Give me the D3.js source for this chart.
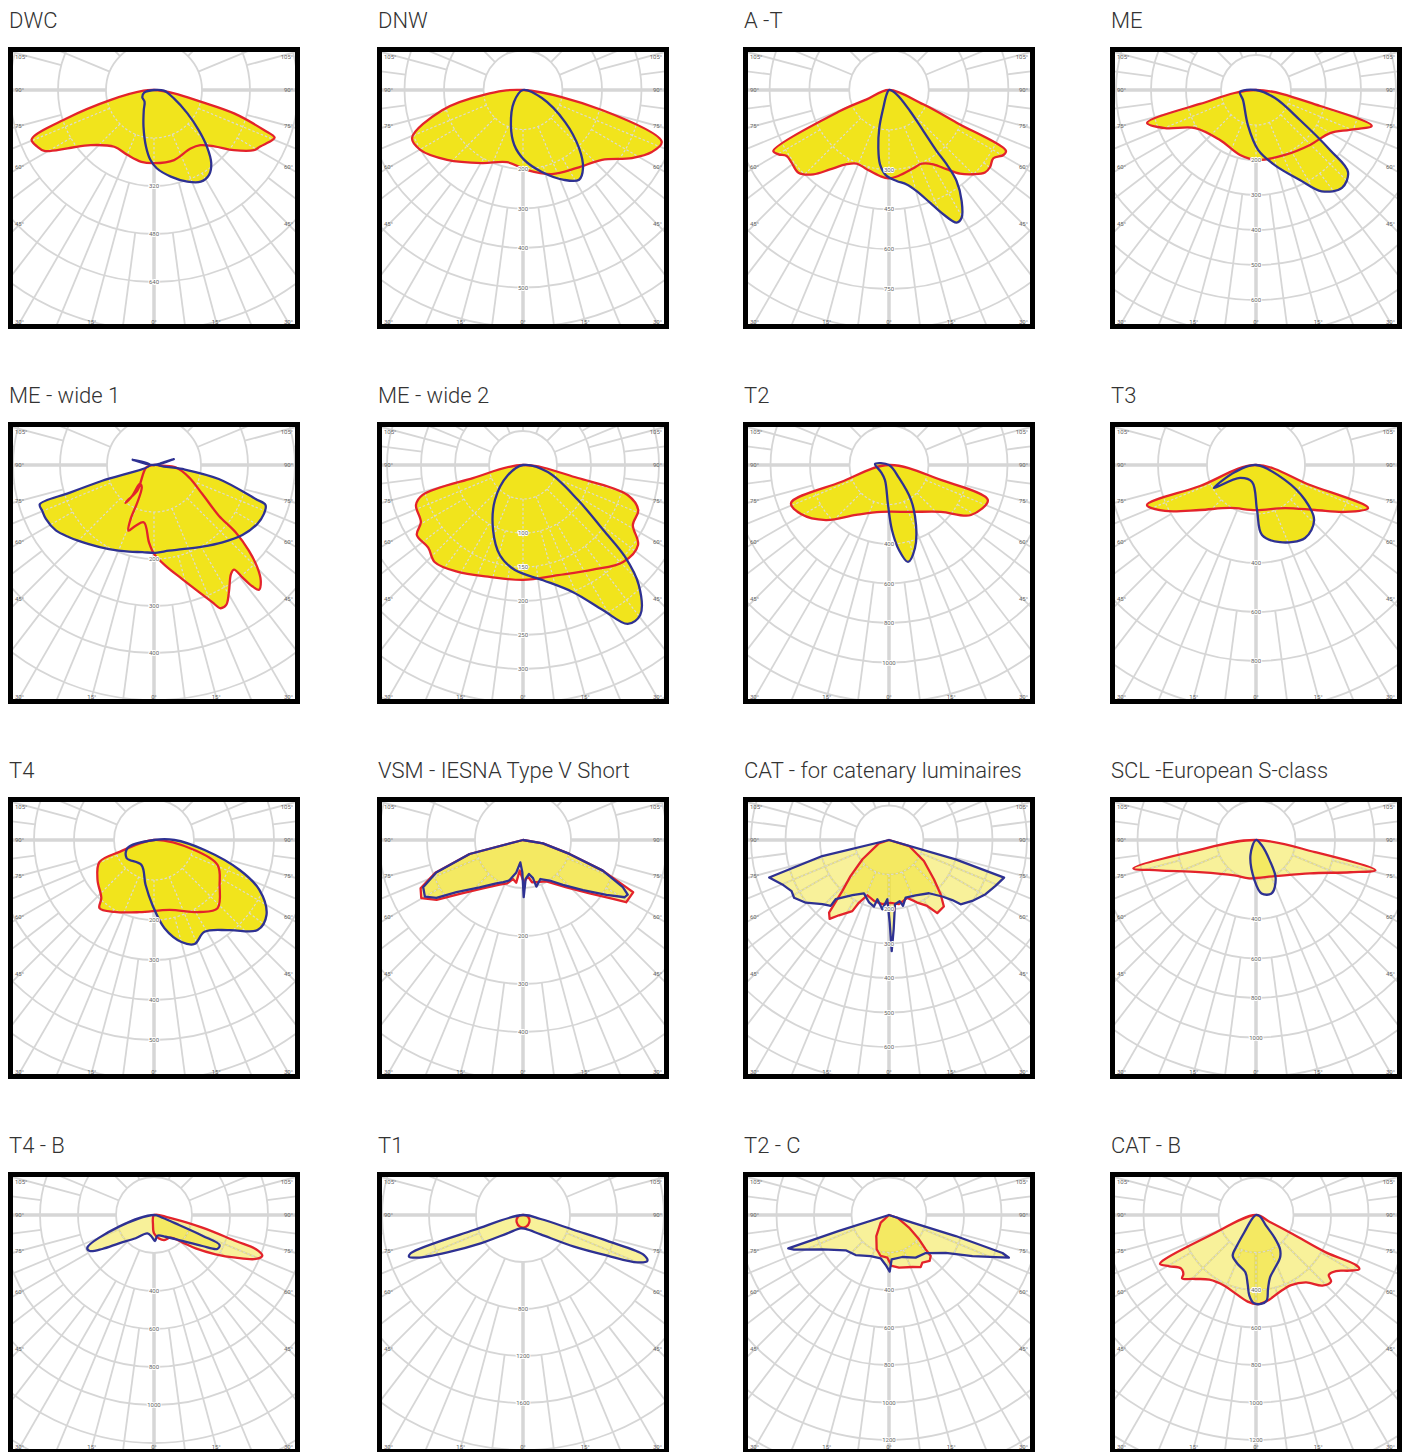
<!DOCTYPE html>
<html>
<head>
<meta charset="utf-8">
<script src="https://cdn.jsdelivr.net/npm/d3@7"></script>
<style>
  html, body { margin: 0; padding: 0; background: #fff; }
  svg { display: block; }
</style>
</head>
<body>
<div id="chart"></div>
<script>
// ---- data: titles, ring steps (cd per ring) and polar curves [gamma deg, cd] ----
var titles = ["DWC", "DNW", "A -T", "ME", "ME - wide 1", "ME - wide 2", "T2", "T3",
  "T4", "VSM - IESNA Type V Short", "CAT - for catenary luminaires", "SCL -European S-class",
  "T4 - B", "T1", "T2 - C", "CAT - B"];

var ringSteps = [160, 100, 150, 100, 100, 50, 200, 200, 100, 100, 100, 200, 200, 400, 200, 200];

var sideAngles = [105, 90, 75, 60, 45];
var bottomAngles = [-30, -15, 0, 15, 30];

var dwcRed = [[-90,0],[-86,35],[-77,150],[-72,305],[-68,440],[-64,432],[-61,418],[-56,348],[-49,280],[-35,231],[-22,234],[-10,243],[0,244],[16,243],[32,230],[40,240],[47,275],[53,333],[59,389],[62,401],[67,428],[68.5,432],[70,390],[73.7,278],[76,160],[80.5,68]];
var dwcBlue = [[-90,0],[-75,34],[-58,46],[-39,50],[-27,75],[-16,127],[-8,191],[-3,233],[2,261],[11,294],[20,325],[27,343],[33,337],[38,310],[43,259],[48,201],[55,136],[67,72],[86,33]];

var dnwRed = [[-90,0],[-83,100],[-76,211],[-66.6,306],[-59.8,301],[-47.4,261],[-29.3,212],[-12.5,187],[3,203],[19,225],[34.7,240],[48.5,267],[58,325],[64.3,362],[69.5,375],[75.8,206]];
var dnwBlue = [[-90,0],[-37,38],[-19,94],[-9,141],[1,177],[13,213],[24.5,250],[32,268],[37.6,249],[44,204],[52.7,134],[67,52]];

var atRed = [[-90,0],[-67.3,91],[-66.8,201],[-62.2,493],[-59.8,482],[-57.2,459],[-53.3,458],[-47.6,462],[-41.9,427],[-36.6,373],[-29.7,322],[-23.7,303],[-15.7,310],[-6,326],[-0.4,333],[6.2,326],[17.3,309],[23.9,304],[30.8,326],[36,369],[40.3,413],[45,449],[49.3,477],[52.7,479],[56.8,470],[60.4,496],[62.5,497],[64.2,283],[67.3,140]];
var atBlue = [[-90,0],[-28,19],[-17.8,70],[-14.4,147],[-10.5,221],[-6.9,282],[-1.6,324],[4.8,344],[10.6,362],[15.3,395],[20,452],[23.6,511],[27,561],[29.6,554],[33.2,500],[36.6,427],[37.8,354],[38,291],[40,201],[45,112],[60.5,33]];

var meRed = [[-90,0],[-76,165],[-73.2,325],[-67.3,282],[-58,205],[-35.8,176],[-13.8,191],[1.6,200],[24,203],[44.5,220],[59.8,245],[67,291],[72.8,346],[76,189]];
var meBlue = [[-90,0],[-83,46],[-52,47],[-13,103],[2,171],[14,221],[26,286],[33,345],[41.3,372],[48.3,352],[51,272],[55.7,152],[67,59]];

var meW1Red = [[-90,0],[-73,17],[-33,65],[-36.8,95],[-36.7,101],[-35.2,80],[-37,50],[-28.9,54],[-24,87],[-23.4,125],[-21.3,150],[-16.8,135],[-9.9,124],[-3.7,165],[0,189],[6.6,216],[13.9,250],[19.5,287],[23,317],[24.9,336],[27.3,335],[30.5,314],[35.2,284],[37.4,280],[38.2,304],[39,332],[40.1,347],[42.7,335],[45.3,309],[47.9,272],[50.5,225],[52,175],[59,120],[70.6,79],[83.9,46],[85,18]];
var meW1Blue = [[-90,0],[-103.8,47],[-92,8],[-73.1,115],[-71.8,190],[-71,257],[-67.8,257],[-63.5,257],[-56.3,251],[-49.6,237],[-39.5,218],[-28.2,203],[-16.1,192],[-7.6,187],[1.1,187],[9.9,185],[18.6,189],[30.6,202],[41.5,220],[51.6,240],[60.3,253],[66,256],[70.3,252],[71.5,228],[77.8,141],[82,61],[92,8],[106.7,44]];

var meW2Red = [[-90,0],[-75.4,76],[-73.4,154],[-69.5,168],[-60.8,172],[-56.6,187],[-48.9,185],[-42.2,193],[-31.3,184],[-17.4,172],[0,169],[17.6,170],[33.7,185],[45.9,205],[55.2,206],[61.4,184],[68.6,182],[74,160],[76.7,83]];
var meW2Blue = [[-90,0],[-56,27],[-38.7,66],[-24.8,105],[-14.3,137],[-4.4,155],[9.9,172],[21.5,201],[28.9,244],[33.4,280],[38,280],[44,245],[48,202],[51,152],[57.5,96],[74,38]];

var t2Red = [[-90,0],[-70.5,258],[-68.8,532],[-60.9,510],[-48.9,424],[-33.4,303],[-9.7,241],[25,262],[48,354],[58.6,486],[70.5,531],[73.9,273]];
var t2Blue = [[-90,0],[-94,71],[-48.8,54],[-15,79],[-1.4,202],[2.6,329],[6.7,433],[11.1,500],[17.4,440],[24.2,334],[32.2,209],[37.6,83]];

var t3Red = [[-90,0],[-69.4,244],[-69.9,474],[-63.2,416],[-51.2,293],[-31.2,205],[0,184],[34,212],[52.7,303],[62.2,411],[69,490],[69.7,235]];
var t3Blue = [[-90,0],[-71.6,90],[-61.3,196],[-51,84],[-13,71],[1.3,184],[4.9,287],[17.3,330],[33.9,359],[46.5,327],[54.5,246],[62.6,134]];

var t4Red = [[-90,0],[-71,91],[-68,147],[-54.7,173],[-42.2,196],[-38.7,218],[-28.7,205],[-11.4,184],[12.5,179],[32.3,213],[43,233],[55.5,199],[68.5,171],[76,104]];
var t4Blue = [[-90,0],[-73.2,69],[-56.8,82],[-26.6,70],[-10.7,114],[-1.3,163],[6.8,222],[15.1,264],[21.3,279],[28.8,262],[40,294],[49,343],[56.3,338],[64.6,292],[70.7,227],[78.8,129],[90,51]];

var vsmRed = [[-90,0],[-75.3,115],[-69.5,195],[-64.7,236],[-60.3,244],[-55.3,219],[-49.5,173],[-39.6,131],[-27.6,105],[-20,96],[-14.4,84],[-9,90],[-6.2,64],[0.9,88],[7.8,77],[12,90],[17.5,92],[29.4,99],[42.5,134],[51.3,178],[56.8,224],[58.9,251],[64.6,254],[65.4,237],[69,178],[73.3,101],[80.5,42]];
var vsmBlue = [[-90,0],[-75.3,115],[-69.5,193],[-64.7,230],[-60,236],[-56.2,217],[-51.9,176],[-42.5,134],[-31.6,106],[-25,97],[-21,92],[-18.4,88],[-11.6,69],[-6.8,47],[-1.2,67],[0.7,119],[3.9,81],[10,72],[14.7,82],[16,101],[24,89],[33.3,101],[41.6,125],[50.2,163],[56.7,208],[60.6,243],[62.5,246],[64.7,230],[69,178],[73.3,101],[80.5,42]];

var catRed = [[-90,0],[-71.6,31],[-54,95],[-46.8,153],[-42.5,200],[-40.5,245],[-39.5,273],[-37,286],[-33.6,262],[-27.3,232],[-25.6,201],[-21.4,172],[-13.8,182],[-5.9,187],[1.5,182],[8.8,188],[17.6,176],[24.3,199],[30.1,221],[33.4,254],[39.5,250],[43.6,217],[48.8,173],[59,118],[73.3,61]];
var catBlue = [[-90,0],[-76.5,199],[-72.6,364],[-67.4,335],[-62.3,319],[-58.7,322],[-53,302],[-46,268],[-41.5,255],[-42,231],[-33.5,192],[-25.1,171],[-17.7,190],[-12.7,198],[-11.1,175],[-5.5,202],[-1.6,172],[0.5,240],[1.4,322],[3,259],[5.3,187],[9.9,180],[12,195],[16.1,174],[25.7,178],[36.9,193],[43.3,225],[46.5,253],[48.1,279],[53.8,299],[60.7,321],[66.7,336],[71.9,351],[73.8,201]];

var sclRed = [[-90,0],[-79.9,319],[-77,637],[-72.7,516],[-60.5,331],[-31.6,210],[-9.7,197],[27.2,206],[58.3,321],[71.1,504],[75.8,624],[78.4,305]];
var sclBlue = [[-90,0],[-20,82],[-2.1,204],[5.9,272],[16.3,282],[27.2,218],[34,123],[47.7,38]];

var t4bRed = [[-90,0],[-5.7,53],[0,96],[12.1,126],[21.8,142],[36.3,148],[46,207],[51.3,281],[57.5,385],[62.4,485],[66.6,583],[69.4,609],[71.5,564],[72.3,451],[75.3,263],[80,80]];
var t4bBlue = [[-90,0],[-71.6,194],[-63.9,391],[-60.8,388],[-56.7,326],[-51,237],[-38.2,156],[-20,103],[-6.1,115],[2.2,137],[9.2,110],[28.3,130],[47.5,202],[57.3,302],[61.8,378],[65.4,380],[66.8,277],[68.2,142],[72,46]];

var t1Red = [[-90,0],[-71.6,45],[-40.8,82],[-14.4,103],[12.5,105],[40.8,82],[71.6,45]];
var t1Blue = [[-90,0],[-73,437],[-71.2,1010],[-69.9,1033],[-68,970],[-63.7,718],[-56.2,434],[-40.5,205],[-9.9,115],[10.8,121],[42.4,223],[58.2,511],[64.3,797],[67.5,1053],[69.7,1128],[71.7,1085],[72.9,751],[73.6,452],[77.2,154]];

var t2cRed = [[-90,0],[-47.4,60],[-31.1,131],[-19.8,194],[-11.5,223],[-2.2,228],[3,272],[10.8,286],[24.2,304],[31.3,325],[35,310],[41.5,327],[45.5,312],[46.9,268],[51,206],[57.7,126],[72,47]];
var t2cBlue = [[-90,0],[-72.3,280],[-71.7,566],[-70,539],[-62.7,400],[-50.8,298],[-39.8,278],[-24.1,240],[-10.9,235],[-3.8,267],[0.7,302],[3.4,237],[17.6,235],[32,268],[44,282],[56.2,364],[63.8,496],[68.5,612],[70.4,679],[71.5,638],[72.5,373],[71.8,131]];

var catbRed = [[-90,0],[-66.1,272],[-63.9,554],[-63,575],[-59.4,537],[-54.6,491],[-50.9,499],[-49.4,519],[-44.7,480],[-35.8,425],[-24.1,413],[-14.2,434],[-5.5,464],[1.1,475],[8.9,457],[16.8,430],[26.6,418],[36.6,448],[43.3,517],[48.4,535],[50.5,503],[55,521],[59.2,580],[62.4,622],[63.4,596],[61.9,423],[62.6,220],[63.4,80]];
var catbBlue = [[-90,0],[-45,30],[-34,111],[-31.8,192],[-29.8,250],[-20.5,279],[-10.5,311],[-6.9,371],[-4.7,432],[-1.7,469],[3.2,475],[7.1,460],[9.2,400],[12.7,341],[18.8,304],[29.6,260],[35.2,222],[39.4,154],[43.2,78],[71.6,22]];

var redCurves = [dwcRed, dnwRed, atRed, meRed, meW1Red, meW2Red, t2Red, t3Red,
  t4Red, vsmRed, catRed, sclRed, t4bRed, t1Red, t2cRed, catbRed];
var blueCurves = [dwcBlue, dnwBlue, atBlue, meBlue, meW1Blue, meW2Blue, t2Blue, t3Blue,
  t4Blue, vsmBlue, catBlue, sclBlue, t4bBlue, t1Blue, t2cBlue, catbBlue];

(function(d3) {

    "use strict";

    // layout (pixels), kept apart from the data
    var colX = [8, 377, 743, 1110],
        rowY = [47, 422, 797, 1172],
        ringPx = [48, 39.5, 39.8, 35, 47, 34, 39.5, 49, 40, 48, 34.5, 39.5, 38, 47, 37.5, 37.5],
        jagged = [9, 10, 14],
        solidCount = 9;

    var RED = "#e3232b",
        BLUE = "#2e3192",
        GRID = "#d6d6d6",
        SOLID = "#f1e41c",
        LIGHT = "#f0e01e";

    /**
     * One photometric polar panel
     * @param {Object} svg     parent selection
     * @param {Object} options panel params
     * @constructor
     */
    function PolarPanel(svg, options) {
        this.default = {
            id: 0,
            x: 0,
            y: 0,
            width: 292,
            height: 282,
            originY: 43,
            ringPx: 40,
            step: 100,
            solid: true,
            jagged: false,
            title: "",
            red: [],
            blue: []
        };
        this.svg = svg;
        this.options = Object.assign({}, this.default, options);
        this.g = null;
        this.plot = null;
        this.radius = null;
        this.line = null;
    }

    PolarPanel.prototype.init = function() {
        var o = this.options;
        this.cx = o.width / 2;
        this.cy = o.originY;

        this.radius = d3.scaleLinear().domain([0, o.step]).range([0, o.ringPx]);
        this.line = d3.lineRadial()
            .angle(function(d) { return Math.PI - d[0] * Math.PI / 180; })
            .radius(function(d) { return this.radius(d[1]); }.bind(this))
            .curve(o.jagged ? d3.curveLinearClosed : d3.curveCatmullRomClosed.alpha(0.5));

        this.g = this.svg.append("g")
            .attr("transform", "translate(" + o.x + "," + o.y + ")");

        this.g.append("text")
            .attr("x", 1)
            .attr("y", -19)
            .attr("font-family", "Roboto, 'Open Sans', sans-serif")
            .attr("font-weight", 300)
            .attr("font-size", 22)
            .attr("fill", "#333")
            .text(o.title);

        this.g.append("rect")
            .attr("width", o.width)
            .attr("height", o.height)
            .attr("fill", "#fff");

        var boxClip = "box-clip-" + o.id;
        this.g.append("clipPath").attr("id", boxClip)
            .append("rect")
            .attr("x", 4).attr("y", 4)
            .attr("width", o.width - 8).attr("height", o.height - 8);

        this.plot = this.g.append("g")
            .attr("clip-path", "url(#" + boxClip + ")")
            .append("g")
            .attr("transform", "translate(" + this.cx + "," + this.cy + ")");

        this.drawGrid(this.plot, false);
        this.drawCurves();
        this.drawLabels();

        this.g.append("rect")
            .attr("x", 2.5).attr("y", 2.5)
            .attr("width", o.width - 5).attr("height", o.height - 5)
            .attr("fill", "none")
            .attr("stroke", "#000")
            .attr("stroke-width", 5);
    };

    /**
     * Rings and spokes; spokes get denser further from the pole
     * @param {Object}  parent  target group, origin at the pole
     * @param {Boolean} overlay dashed copy drawn over the fill
     */
    PolarPanel.prototype.drawGrid = function(parent, overlay) {
        var s = this.options.ringPx,
            rMax = 340,
            rings = d3.range(1, Math.ceil(rMax / s) + 1),
            spokes = d3.range(0, 360, 7.5);

        var grid = parent.append("g")
            .attr("fill", "none")
            .attr("stroke", overlay ? "#dcdbd0" : GRID)
            .attr("stroke-dasharray", overlay ? "2.5,2" : null);

        grid.selectAll("circle")
            .data(rings)
            .enter()
            .append("circle")
            .attr("r", function(k) { return k * s; })
            .attr("stroke-width", overlay ? 1.2 : 1.8);

        function thick(a) { return a === 0 || a === 90 || a === 270; }
        function inner(a) {
            if (thick(a) || a % 22.5 === 0) return s;
            return a % 15 === 0 ? 2 * s : 3 * s;
        }
        function rad(a) { return a * Math.PI / 180; }

        grid.selectAll("line")
            .data(spokes)
            .enter()
            .append("line")
            .attr("x1", function(a) { return inner(a) * Math.sin(rad(a)); })
            .attr("y1", function(a) { return inner(a) * Math.cos(rad(a)); })
            .attr("x2", function(a) { return rMax * Math.sin(rad(a)); })
            .attr("y2", function(a) { return rMax * Math.cos(rad(a)); })
            .attr("stroke-width", function(a) {
                if (overlay) return 1.2;
                return thick(a) ? 3.5 : 1.8;
            });
    };

    PolarPanel.prototype.drawCurves = function() {
        var self = this,
            o = this.options,
            curves = [
                { data: o.red, color: RED },
                { data: o.blue, color: BLUE }
            ];

        var fillClip = "fill-clip-" + o.id;
        this.plot.append("clipPath").attr("id", fillClip)
            .selectAll("path")
            .data(curves)
            .enter()
            .append("path")
            .attr("d", function(d) { return self.line(d.data); });

        this.plot.selectAll("path.fill")
            .data(curves)
            .enter()
            .append("path")
            .attr("class", "fill")
            .attr("d", function(d) { return self.line(d.data); })
            .attr("fill", o.solid ? SOLID : LIGHT)
            .attr("fill-opacity", o.solid ? 1 : 0.45);

        this.drawGrid(this.plot.append("g").attr("clip-path", "url(#" + fillClip + ")"), true);

        this.plot.selectAll("path.edge")
            .data(curves)
            .enter()
            .append("path")
            .attr("class", "edge")
            .attr("d", function(d) { return self.line(d.data); })
            .attr("fill", "none")
            .attr("stroke", function(d) { return d.color; })
            .attr("stroke-width", 2.3)
            .attr("stroke-linejoin", "round");
    };

    PolarPanel.prototype.drawLabels = function() {
        var o = this.options,
            s = o.ringPx,
            self = this,
            font = "Roboto, sans-serif",
            bottom = o.height - this.cy - 14;

        var rings = d3.range(2, Math.floor(bottom / s) + 1);
        this.plot.selectAll("text.ring")
            .data(rings)
            .enter()
            .append("text")
            .attr("class", "ring")
            .attr("x", 0)
            .attr("y", function(k) { return k * s + 2; })
            .attr("text-anchor", "middle")
            .attr("font-family", font)
            .attr("font-size", 6)
            .attr("fill", "#666")
            .attr("stroke", "#fff")
            .attr("stroke-width", 2)
            .attr("paint-order", "stroke")
            .text(function(k) { return k * o.step; });

        var half = o.width / 2 - 12;
        var side = [];
        sideAngles.forEach(function(a) {
            var y = self.cy + half * Math.cos(a * Math.PI / 180) / Math.sin(a * Math.PI / 180);
            side.push({ a: a, x: 7, y: Math.max(y, 10), anchor: "start" });
            side.push({ a: a, x: o.width - 7, y: Math.max(y, 10), anchor: "end" });
        });
        var by = o.height - 7;
        bottomAngles.forEach(function(a) {
            side.push({ a: Math.abs(a), x: self.cx + (by - self.cy) * Math.tan(a * Math.PI / 180),
                y: by, anchor: Math.abs(a) === 30 ? (a < 0 ? "start" : "end") : "middle" });
        });

        this.g.selectAll("text.angle")
            .data(side)
            .enter()
            .append("text")
            .attr("class", "angle")
            .attr("x", function(d) {
                if (d.anchor === "start" && d.y === by) return 7;
                if (d.anchor === "end" && d.y === by) return o.width - 7;
                return d.x;
            })
            .attr("y", function(d) { return d.y + 2; })
            .attr("text-anchor", function(d) { return d.anchor; })
            .attr("font-family", font)
            .attr("font-size", 6)
            .attr("fill", "#666")
            .text(function(d) { return d.a + "\u00b0"; });
    };

    var svg = d3.select("#chart")
        .append("svg")
        .attr("width", 1413)
        .attr("height", 1452);

    titles.forEach(function(title, i) {
        var panel = new PolarPanel(svg, {
            id: i,
            x: colX[i % 4],
            y: rowY[Math.floor(i / 4)],
            ringPx: ringPx[i],
            step: ringSteps[i],
            solid: i < solidCount,
            jagged: jagged.indexOf(i) >= 0,
            title: title,
            red: redCurves[i],
            blue: blueCurves[i]
        });
        panel.init();
    });

})(d3);
</script>
</body>
</html>
